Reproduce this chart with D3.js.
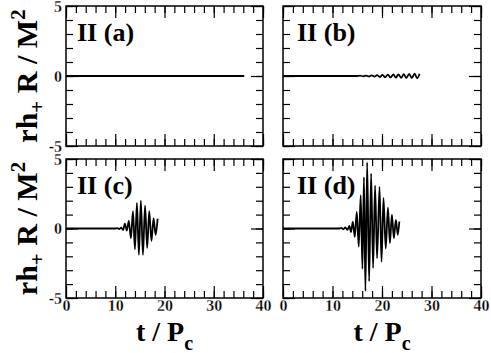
<!DOCTYPE html>
<html>
<head>
<meta charset="utf-8">
<script src="https://cdn.jsdelivr.net/npm/d3@7"></script>
<style>
body { margin: 0; background: #fff; }
svg { display: block; font-family: "Liberation Serif", "Times New Roman", serif; }
.tick line { stroke: #000; stroke-width: 1.2; }
.frame { fill: none; stroke: #000; stroke-width: 1.5; }
.wave { fill: none; stroke: #000; stroke-width: 1.8; stroke-linejoin: round; }
.plabel { font-weight: bold; font-size: 26px; }
</style>
</head>
<body>
<script>
var width = 491
var height = 353

// axis ticks
var xMajor = [0, 10, 20, 30, 40]
var xMinor = [0, 2, 4, 6, 8, 10, 12, 14, 16, 18, 20, 22, 24, 26, 28, 30, 32, 34, 36, 38, 40]
var yMajor = [-5, 0, 5]
var yMinor = [-5, -4, -3, -2, -1, 0, 1, 2, 3, 4, 5]

var panelNames = ["II (a)", "II (b)", "II (c)", "II (d)"]

// waveforms (t / Pc , rh+ R / M^2)
var tA = [0, 36.2]
var hA = [0, 0]

var tB = [0, 15, 15.6, 16.2, 16.8, 17.35, 17.9, 18.5, 19.0, 19.6, 20.1, 20.6, 21.2, 21.7, 22.3, 22.8, 23.3, 23.9, 24.4, 24.9, 25.5, 26.0, 26.6, 27.1, 27.6]
var hB = [0, 0, 0.02, -0.02, 0.03, -0.03, 0.04, -0.05, 0.06, -0.07, 0.08, -0.09, 0.1, -0.1, 0.11, -0.12, 0.12, -0.13, 0.14, -0.14, 0.15, -0.15, 0.16, -0.16, 0.16]

var tC = [0, 10.0, 10.4, 10.8, 11.2, 11.6, 11.95, 12.35, 12.75, 13.18, 13.6, 14.0, 14.4, 14.8, 15.2, 15.62, 16.05, 16.48, 16.9, 17.35, 17.78, 18.2, 18.6]
var hC = [0, 0, 0.03, -0.04, 0.07, -0.1, 0.35, -0.15, 0.55, -0.7, 1.25, -1.5, 1.85, -1.9, 2.0, -1.9, 1.65, -1.4, 1.25, -0.9, 0.72, -0.45, 0.7]

var tD = [0, 11.4, 11.8, 12.2, 12.6, 13.0, 13.4, 13.75, 14.1, 14.5, 14.9, 15.3, 15.7, 16.05, 16.35, 16.65, 17.0, 17.4, 17.8, 18.2, 18.6, 19.0, 19.5, 19.9, 20.3, 20.75, 21.2, 21.6, 22.0, 22.4, 22.8, 23.2, 23.5]
var hD = [0, 0, 0.04, -0.05, 0.08, -0.1, 0.18, -0.25, 0.5, -0.6, 1.2, -1.3, 2.4, -2.9, 3.7, -4.5, 4.75, -3.8, 3.95, -2.85, 3.1, -2.15, 3.0, -2.4, 2.2, -1.45, 1.5, -1.05, 1.0, -0.7, 0.62, -0.45, 0.5]

var series = [[tA, hA], [tB, hB], [tC, hC], [tD, hD]]

// panel frames in pixels
var cols = [[66, 263], [283, 481]]
var rows = [[6, 146], [159, 298]]
var labelDx = [11, 14]

var svg = d3.select("body")
    .append("svg")
    .attr("width", width)
    .attr("height", height)

svg.append("rect")
    .attr("width", width)
    .attr("height", height)
    .attr("fill", "#fff")

// only the bold serif face is installed, so thin it a little for the tick numbers
function serifTicks(sel) {
    sel.attr("font-family", "'Liberation Serif', 'Times New Roman', serif")
        .attr("font-size", 16)
        .attr("font-weight", "bold")
    sel.selectAll(".tick text")
        .attr("fill", "#000")
        .attr("stroke", "#fff")
        .attr("stroke-width", 0.3)
}

series.forEach(function (s, i) {
    var c = i % 2
    var r = Math.floor(i / 2)
    var x = d3.scaleLinear().domain([0, 40]).range(cols[c])
    var y = d3.scaleLinear().domain([-5, 5]).range([rows[r][1], rows[r][0]])
    var g = svg.append("g")

    var noLabel = function () { return "" }
    var xLab = r === 1 ? function (d) { return String(d) } : noLabel
    var yLab = c === 0 ? function (d) { return String(d) } : noLabel

    // minor ticks on all four sides
    g.append("g").attr("transform", "translate(0," + rows[r][1] + ")")
        .call(d3.axisBottom(x).tickValues(xMinor).tickSize(-7).tickFormat(noLabel))
    g.append("g").attr("transform", "translate(0," + rows[r][0] + ")")
        .call(d3.axisTop(x).tickValues(xMinor).tickSize(-7).tickFormat(noLabel))
    g.append("g").attr("transform", "translate(" + cols[c][0] + ",0)")
        .call(d3.axisLeft(y).tickValues(yMinor).tickSize(-7).tickFormat(noLabel))
    g.append("g").attr("transform", "translate(" + cols[c][1] + ",0)")
        .call(d3.axisRight(y).tickValues(yMinor).tickSize(-7).tickFormat(noLabel))

    // major ticks + labels
    g.append("g").attr("transform", "translate(0," + rows[r][1] + ")")
        .call(d3.axisBottom(x).tickValues(xMajor).tickSize(-12).tickPadding(2).tickFormat(xLab))
        .call(serifTicks)
    g.append("g").attr("transform", "translate(0," + rows[r][0] + ")")
        .call(d3.axisTop(x).tickValues(xMajor).tickSize(-12).tickFormat(noLabel))
    g.append("g").attr("transform", "translate(" + cols[c][0] + ",0)")
        .call(d3.axisLeft(y).tickValues(yMajor).tickSize(-12).tickPadding(4).tickFormat(yLab))
        .call(serifTicks)
    g.append("g").attr("transform", "translate(" + cols[c][1] + ",0)")
        .call(d3.axisRight(y).tickValues(yMajor).tickSize(-12).tickFormat(noLabel))

    g.selectAll(".domain").remove()

    g.append("rect")
        .attr("class", "frame")
        .attr("x", cols[c][0])
        .attr("y", rows[r][0])
        .attr("width", cols[c][1] - cols[c][0])
        .attr("height", rows[r][1] - rows[r][0])

    var line = d3.line()
        .x(function (d) { return x(d[0]) })
        .y(function (d) { return y(d[1]) })
        .curve(d3.curveMonotoneX)

    g.append("path")
        .datum(d3.zip(s[0], s[1]))
        .attr("class", "wave")
        .attr("stroke-width", i === 0 ? 2 : 1.8)
        .attr("d", line)

    g.append("text")
        .attr("class", "plabel")
        .attr("x", cols[c][0] + labelDx[c])
        .attr("y", rows[r][0] + 35)
        .text(panelNames[i])
})

// x titles
cols.forEach(function (cx) {
    var t = svg.append("text")
        .attr("font-weight", "bold")
        .attr("font-size", 28)
        .attr("text-anchor", "middle")
        .attr("x", (cx[0] + cx[1]) / 2)
        .attr("y", 341)
    t.append("tspan").text("t / P")
    t.append("tspan").attr("font-size", 20).attr("dy", 9).text("c")
})

// y titles
rows.forEach(function (ry) {
    var t = svg.append("text")
        .attr("font-weight", "bold")
        .attr("font-size", 30)
        .attr("text-anchor", "middle")
        .attr("transform", "translate(37," + (ry[0] + ry[1]) / 2 + ") rotate(-90)")
    t.append("tspan").text("rh")
    t.append("tspan").attr("font-size", 21).attr("dy", 7).text("+")
    t.append("tspan").attr("dy", -7).text(" R / M")
    t.append("tspan").attr("font-size", 21).attr("dy", -12).text("2")
})
</script>
</body>
</html>
